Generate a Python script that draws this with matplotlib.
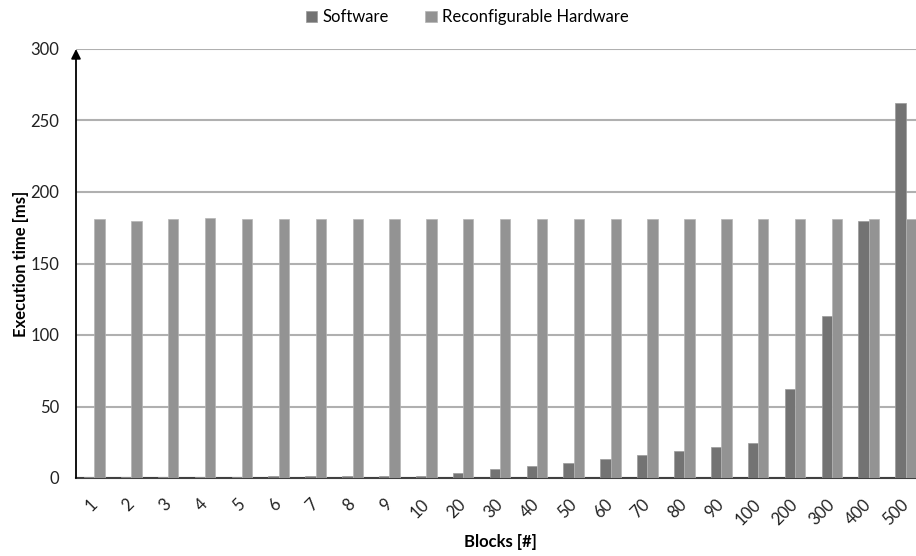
import matplotlib.pyplot as plt
import numpy as np

blocks = ['1', '2', '3', '4', '5', '6', '7', '8', '9', '10',
          '20', '30', '40', '50', '60', '70', '80', '90', '100',
          '200', '300', '400', '500']
software_ms = [0.4, 0.4, 0.4, 0.4, 0.5, 1.5, 1.5, 1.5, 1.5, 1.6,
               3.8, 6.5, 8.4, 10.3, 13.0, 15.9, 18.7, 21.5, 24.3,
               62.0, 113.5, 180.0, 262.0]
hardware_ms = [181, 180, 181, 182, 181, 181, 181, 181, 181, 181,
               181, 181, 181, 181, 181, 181, 181, 181, 181,
               181, 181, 181, 181]
y_ticks = [0, 50, 100, 150, 200, 250, 300]

plt.rcParams['font.family'] = ['Lato', 'DejaVu Sans']

fig = plt.figure(figsize=(9.16, 5.56), dpi=100)
ax = fig.add_axes([76 / 916, 1 - 478 / 556, 848 / 916, (478 - 49) / 556])

x = np.arange(len(blocks))
w = 0.28
ax.bar(x - w / 2, software_ms, w, color='#737373', edgecolor='#9a9a9a',
       linewidth=0.5, label='Software', zorder=3)
ax.bar(x + w / 2, hardware_ms, w, color='#939393', edgecolor='#b5b5b5',
       linewidth=0.5, label='Reconfigurable Hardware', zorder=3)

ax.set_xlim(-0.5, len(blocks) - 0.5)
ax.set_ylim(0, 300)
ax.set_yticks(y_ticks)
ax.yaxis.grid(True, color='#b0b0b0', linewidth=1.5, zorder=0)
ax.set_axisbelow(True)

for side in ['top', 'right', 'left']:
    ax.spines[side].set_visible(False)
ax.spines['bottom'].set_color('#404040')
ax.spines['bottom'].set_linewidth(1.5)

# vertical axis with an arrow head at the top
ax.annotate('', xy=(0, 1.0), xycoords='axes fraction', xytext=(0, 0),
            textcoords='axes fraction',
            arrowprops=dict(arrowstyle='-|>', color='black', lw=1.3,
                            mutation_scale=14, shrinkA=0, shrinkB=0),
            zorder=5)

ax.set_xticks(x)
ax.set_xticklabels(blocks, rotation=45, rotation_mode='anchor', ha='right',
                   va='center', fontsize=12, color='#222222')
ax.tick_params(axis='x', length=0, pad=17)
ax.tick_params(axis='y', length=0, pad=12, labelsize=12, labelcolor='#222222')

ax.set_xlabel('Blocks [#]', fontweight='bold', fontsize=12)
ax.xaxis.set_label_coords(0.5, -0.13)
ax.set_ylabel('Execution time [ms]', fontweight='bold', fontsize=12)
ax.yaxis.set_label_coords(-0.056, 0.5)

fig.legend(loc='upper center', bbox_to_anchor=(0.51, 1.01), ncol=2, frameon=False,
           fontsize=12, handlelength=0.7, handleheight=0.7, handletextpad=0.3,
           columnspacing=2.2)

fig.savefig('out.png', dpi=100)
